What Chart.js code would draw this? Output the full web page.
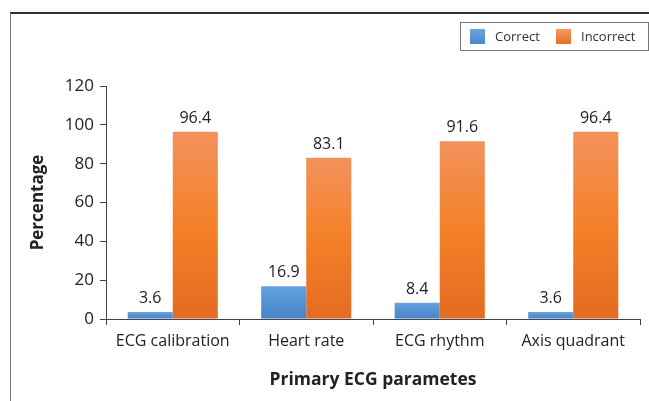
<!DOCTYPE html>
<html>
<head>
<meta charset="utf-8">
<script src="https://cdn.jsdelivr.net/npm/chart.js@4/dist/chart.umd.min.js"></script>
<style>
  html, body { margin: 0; padding: 0; background: #fff; }
  #wrap { position: relative; width: 649px; height: 401px; }
  #frame { position: absolute; left: 10px; top: 12px; right: 0; bottom: 0;
           border-top: 2px solid #333; border-left: 1px solid #777; }
  canvas { position: absolute; left: 0; top: 0; }
</style>
</head>
<body>
<div id="wrap">
  <div id="frame"></div>
  <canvas id="myChart" width="649" height="401"></canvas>
</div>
<script>
var categories = ['ECG calibration', 'Heart rate', 'ECG rhythm', 'Axis quadrant'];
var correct = [3.6, 16.9, 8.4, 3.6];
var incorrect = [96.4, 83.1, 91.6, 96.4];
var yTicks = [0, 20, 40, 60, 80, 100, 120];

var FONT = "'Open Sans', 'Liberation Sans', sans-serif";

// vertical gradient per bar, lighter at the top
function barGradient(top, mid, bottom) {
    return function (context) {
        var chart = context.chart;
        if (!chart.chartArea || context.type !== 'data') return mid;
        var v = context.parsed.y;
        var yScale = chart.scales.y;
        var y1 = yScale.getPixelForValue(v);
        var y0 = yScale.getPixelForValue(0);
        if (!isFinite(y1) || y0 - y1 < 1) return mid;
        var g = chart.ctx.createLinearGradient(0, y1, 0, y0);
        g.addColorStop(0, top);
        g.addColorStop(0.5, mid);
        g.addColorStop(1, bottom);
        return g;
    };
}

// numbers above the bars
const valueLabels = {
    id: 'valueLabels',
    afterDatasetsDraw(chart) {
        const ctx = chart.ctx;
        ctx.save();
        ctx.font = '16px ' + FONT;
        ctx.fillStyle = '#222';
        ctx.textAlign = 'center';
        ctx.textBaseline = 'alphabetic';
        chart.data.datasets.forEach((ds, di) => {
            chart.getDatasetMeta(di).data.forEach((bar, i) => {
                ctx.fillText(ds.data[i].toFixed(1), bar.x, bar.y - 9);
            });
        });
        ctx.restore();
    }
};

// boxed legend in the top right corner
const boxLegend = {
    id: 'boxLegend',
    afterDraw(chart) {
        const ctx = chart.ctx;
        const x0 = 460, y0 = 22, w = 188, h = 28;
        ctx.save();
        ctx.strokeStyle = '#777';
        ctx.lineWidth = 1;
        ctx.strokeRect(x0 + 0.5, y0 + 0.5, w, h);
        ctx.font = '13px ' + FONT;
        ctx.textBaseline = 'middle';
        var items = [
            { x: 470, text: chart.data.datasets[0].label, c: ['#6aa6e0', '#4a88c9'] },
            { x: 556, text: chart.data.datasets[1].label, c: ['#f39a62', '#e56d23'] }
        ];
        items.forEach(function (it) {
            var g = ctx.createLinearGradient(0, y0 + 7, 0, y0 + 22);
            g.addColorStop(0, it.c[0]);
            g.addColorStop(1, it.c[1]);
            ctx.fillStyle = g;
            ctx.fillRect(it.x, y0 + 7, 15, 15);
            ctx.fillStyle = '#333';
            ctx.fillText(it.text, it.x + 25, y0 + 15);
        });
        ctx.restore();
    }
};

const ctx = document.getElementById('myChart');

var c = new Chart(ctx, {
    type: 'bar',
    data: {
        labels: categories,
        datasets: [{
            label: 'Correct',
            data: correct,
            backgroundColor: barGradient('#67a3de', '#5592d3', '#4683c6'),
            borderWidth: 0
        }, {
            label: 'Incorrect',
            data: incorrect,
            backgroundColor: barGradient('#f2925c', '#f48028', '#e46b22'),
            borderWidth: 0
        }]
    },
    options: {
        responsive: false,
        animation: false,
        devicePixelRatio: 1,
        layout: { padding: { top: 86, left: 0, right: 9, bottom: 0 } },
        datasets: { bar: { categoryPercentage: 0.675, barPercentage: 1.0 } },
        plugins: {
            legend: { display: false },
            tooltip: { enabled: false }
        },
        scales: {
            x: {
                afterFit: function (scale) { scale.height = 82; },
                grid: { drawOnChartArea: false, offset: true, tickLength: 6, color: '#444', lineWidth: 1 },
                border: { color: '#444', width: 1 },
                ticks: { color: '#222', font: { family: FONT, size: 16 }, padding: 7, maxRotation: 0 },
                title: {
                    display: true, text: 'Primary ECG parametes', color: '#222',
                    font: { family: FONT, size: 17.5, weight: 'bold' }, padding: { top: 0, bottom: 10 }
                }
            },
            y: {
                min: 0,
                max: 120,
                afterBuildTicks: function (scale) {
                    scale.ticks = yTicks.map(v => ({ value: v }));
                },
                afterFit: function (scale) { scale.width = 106; },
                grid: { drawOnChartArea: false, tickLength: 6, color: '#444', lineWidth: 1 },
                border: { color: '#444', width: 1 },
                ticks: { color: '#222', font: { family: FONT, size: 17 }, padding: 6 },
                title: {
                    display: true, text: 'Percentage', color: '#222',
                    font: { family: FONT, size: 17, weight: 'bold' }, padding: { top: 28, bottom: 0 }
                }
            }
        }
    },
    plugins: [valueLabels, boxLegend]
});
</script>
</body>
</html>
